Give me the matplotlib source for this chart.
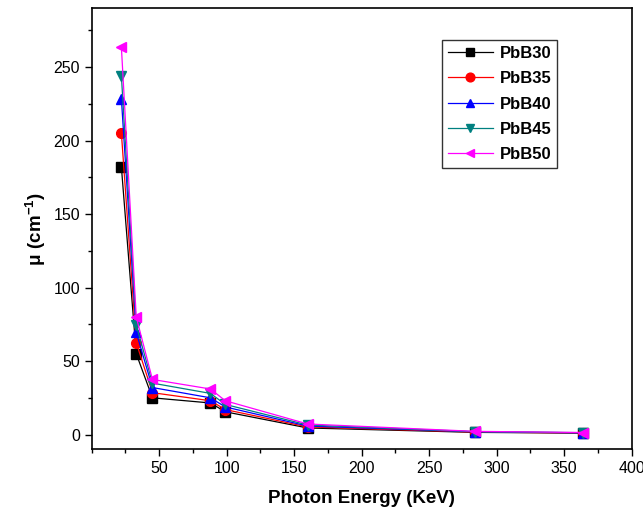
import matplotlib.pyplot as plt
from matplotlib.ticker import MultipleLocator

plt.rcParams['font.family'] = ['Liberation Sans', 'DejaVu Sans']
plt.rcParams['mathtext.fontset'] = 'custom'
plt.rcParams['mathtext.bf'] = 'Liberation Sans:bold'
plt.rcParams['mathtext.rm'] = 'Liberation Sans'

energy = [22, 33, 45, 88, 99, 160, 284, 364]
labels = ['PbB30', 'PbB35', 'PbB40', 'PbB45', 'PbB50']
pbb30 = [182, 55, 25, 21.5, 15.5, 4.5, 1.5, 1.0]
pbb35 = [205, 62.5, 28.5, 23, 17, 5.2, 1.7, 1.1]
pbb40 = [228.5, 69.5, 32, 25, 18.8, 5.8, 1.9, 1.2]
pbb45 = [244, 74.5, 35, 28, 20.5, 6.5, 2.0, 1.3]
pbb50 = [263.5, 80, 37.5, 31, 23, 7.2, 2.2, 1.4]
series = [pbb30, pbb35, pbb40, pbb45, pbb50]

colors = ['black', 'red', 'blue', '#008080', 'magenta']
markers = ['s', 'o', '^', 'v', '<']

fig = plt.figure(figsize=(6.43, 5.16), dpi=100)
ax = fig.add_axes([0.1426, 0.1293, 0.8398, 0.8547])

for y, lab, c, m in zip(series, labels, colors, markers):
    ax.plot(energy, y, color=c, marker=m, markersize=7, linewidth=0.9, label=lab)

ax.set_xlim(0, 400)
ax.set_ylim(-10, 290)
ax.xaxis.set_major_locator(MultipleLocator(50))
ax.xaxis.set_minor_locator(MultipleLocator(25))
ax.yaxis.set_major_locator(MultipleLocator(50))
ax.yaxis.set_minor_locator(MultipleLocator(25))
ax.set_xticks([50, 100, 150, 200, 250, 300, 350, 400])
ax.tick_params(which='major', direction='out', length=5, width=1, labelsize=11.5)
ax.tick_params(which='minor', direction='out', length=3, width=1)
for s in ax.spines.values():
    s.set_linewidth(1.2)

ax.set_xlabel('Photon Energy (KeV)', fontsize=13.5, fontweight='bold', labelpad=10)
ax.set_ylabel(r'$\mathbf{\mu\ (cm^{-1})}$', fontsize=13.5, labelpad=4)

leg = ax.legend(loc='upper right', bbox_to_anchor=(0.862, 0.928), borderaxespad=0,
                frameon=True, fancybox=False, edgecolor='black',
                prop={'weight': 'bold', 'size': 12}, markerscale=0.9,
                handlelength=2.7, handletextpad=0.4, labelspacing=0.62, borderpad=0.35)
leg.get_frame().set_linewidth(1.0)

fig.savefig('out.png', dpi=100)
